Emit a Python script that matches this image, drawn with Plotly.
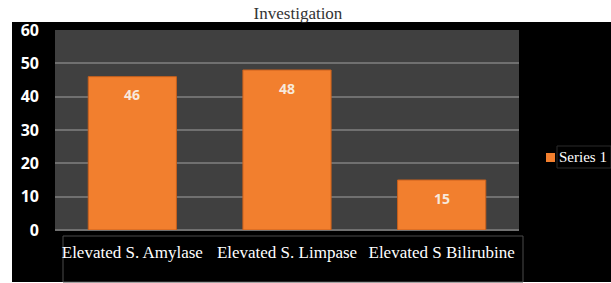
import plotly.graph_objects as go

categories = ["Elevated S. Amylase", "Elevated S. Limpase", "Elevated S Bilirubine"]
values = [46, 48, 15]
series_name = "Series 1"
y_ticks = [0, 10, 20, 30, 40, 50, 60]

W, H = 611, 283
L, R, T, B = 55, 92, 30, 53
pw, ph = W - L - R, H - T - B

def px_x(p):
    return (p - L) / pw

def px_y(p):
    return (H - B - p) / ph

BAR_COLOR = "#F27F2E"

fig = go.Figure()
fig.add_trace(go.Bar(
    x=categories, y=values, name=series_name,
    marker=dict(color=BAR_COLOR, line=dict(color="#C9601C", width=1)),
    width=0.57, showlegend=False, hoverinfo="skip",
))

for c, v in zip(categories, values):
    fig.add_annotation(x=c, y=v, text=f"<b>{v}</b>", showarrow=False, yshift=-18,
                       font=dict(family="Open Sans, DejaVu Sans, sans-serif", size=14, color="#F7E9DC"))

# manual legend
fig.add_annotation(xref="paper", yref="paper", x=px_x(557), y=px_y(157), xanchor="left", yanchor="middle",
                   text=series_name, showarrow=False,
                   font=dict(family="Liberation Serif, serif", size=15, color="white"))

shapes = [
    dict(type="rect", xref="paper", yref="paper", x0=px_x(12), x1=px_x(611), y0=px_y(282), y1=px_y(22),
         fillcolor="black", line=dict(width=0), layer="below"),
    dict(type="rect", xref="paper", yref="paper", x0=0, x1=1, y0=0, y1=1,
         fillcolor="#404040", line=dict(width=0), layer="below"),
    dict(type="rect", xref="paper", yref="paper", x0=px_x(63), x1=px_x(523), y0=px_y(282), y1=px_y(236),
         fillcolor="rgba(0,0,0,0)", line=dict(color="#4a4a4a", width=1), layer="below"),
    dict(type="rect", xref="paper", yref="paper", x0=px_x(546), x1=px_x(555), y0=px_y(162), y1=px_y(153),
         fillcolor=BAR_COLOR, line=dict(width=0)),
    dict(type="rect", xref="paper", yref="paper", x0=px_x(557), x1=px_x(611), y0=px_y(168), y1=px_y(146),
         fillcolor="rgba(0,0,0,0)", line=dict(color="#2a2a2a", width=1)),
]

fig.update_layout(
    width=W, height=H,
    margin=dict(l=L, r=R, t=T, b=B, autoexpand=False),
    paper_bgcolor="white",
    plot_bgcolor="#404040",
    shapes=shapes,
    showlegend=False,
    title=dict(text="Investigation", x=px_x(298), xref="paper", xanchor="center",
               y=1 - 13 / H, yanchor="middle",
               font=dict(family="Liberation Serif, serif", size=17, color="#333333")),
    xaxis=dict(showgrid=False, tickfont=dict(family="Liberation Serif, serif", size=17, color="white"),
               ticks="", ticklabelstandoff=10, zeroline=False),
    yaxis=dict(range=[0, 60], tickvals=y_ticks, showgrid=True, gridcolor="#707070", gridwidth=1.5,
               zeroline=True, zerolinecolor="#707070", zerolinewidth=1.5,
               tickfont=dict(family="Open Sans, DejaVu Sans, sans-serif", size=16, color="white", weight="bold"),
               ticks="", ticklabelstandoff=15),
)

fig.write_html("out.html", config={"displayModeBar": False},
               post_script="document.body.style.margin='0';document.body.style.overflow='hidden';")
